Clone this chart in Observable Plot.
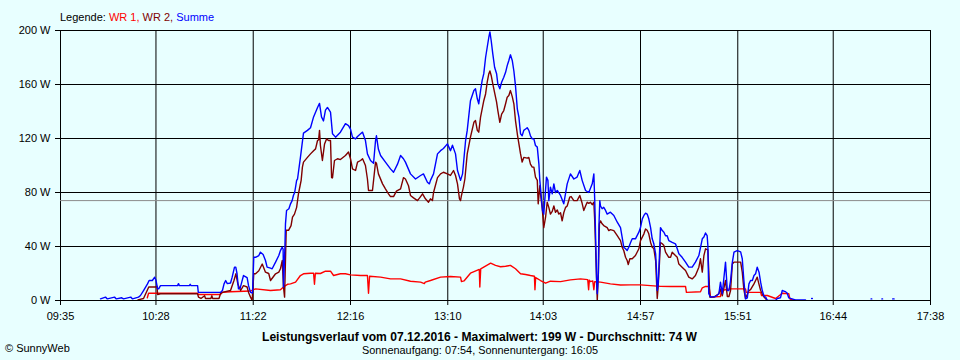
<!DOCTYPE html>
<html><head><meta charset="utf-8">
<script src="https://cdn.jsdelivr.net/npm/d3@7"></script>
<script src="https://cdn.jsdelivr.net/npm/@observablehq/plot@0.6"></script>
<style>
html,body{margin:0;padding:0;background:#E8FFFF;}
#chart svg{display:block;}
</style></head><body><div id="chart"></div>
<script>
// x tick labels (time of day) and y ticks (W)
const tickLabels = ["09:35","10:28","11:22","12:16","13:10","14:03","14:57","15:51","16:44","17:38"];
const yTicks = [0, 40, 80, 120, 160, 200];
const averageW = 74;
const titleText = "Leistungsverlauf vom 07.12.2016 - Maximalwert: 199 W - Durchschnitt: 74 W";
const subtitleText = "Sonnenaufgang: 07:54, Sonnenuntergang: 16:05";
const seriesNames = ["WR 1", "WR 2", "Summe"];
const seriesColors = ["#FF0000", "#800000", "#0000FF"];

// [minutes since midnight, watts]
const wr1 = [[623.2,2],[623.9,5.4],[651.1,5.4],[651.5,4.4],[663.8,4.4],[664.9,6],[669.4,6.5],[680.5,7],[682.1,8],[683.3,8.6],[691.6,7.4],[697.1,8],[698.8,10],[701,12],[702.7,12.3],[705.5,13.6],[708.2,18.5],[709.9,19.8],[713.8,20.2],[715.5,20.2],[716,12],[716.5,20.2],[719.3,20],[722.1,21.7],[724.9,21.7],[726.6,18.5],[730.4,19.8],[733.2,19.8],[736,19],[741.6,18.5],[745.4,18.5],[746,5.4],[746.6,18],[752.7,17.3],[758.2,16],[763.8,16],[769.3,14.3],[774.9,13.6],[777,12.5],[777.5,13.6],[780.4,14.8],[786,17.3],[791.5,17.8],[797.1,17.3],[797.6,14],[799,14.5],[802.6,20.2],[807.5,23],[807.8,10],[808.3,23.5],[813.8,27.7],[816.5,26],[819.3,25],[822.1,25.4],[824.8,26],[827.6,23.5],[830.4,19.8],[833.2,19.3],[835.9,18.5],[838.1,18],[838.4,8],[838.8,17],[841.5,14.8],[844.3,12.8],[847,14.3],[852.6,14],[858.1,15.3],[863.7,16],[867.7,15.5],[868.2,8],[868.6,15],[869.2,14],[870.5,14.5],[871.1,8],[871.6,14],[874.8,13.6],[880.3,12.3],[885.9,11.5],[891.5,11.6],[897,11.6],[902.6,11],[908.1,10.5],[913.7,10.4],[919.2,10.4],[922,10.4],[922.5,6],[930.3,6.5],[931.3,9.4],[933.1,10.4],[935,10.5],[935.9,2.5],[941.4,3],[941.9,7.4],[947,8.6],[955.3,8.6],[955.7,6],[963.7,6],[964.2,3.7],[967.4,3.7],[972,1.5],[975.7,5.4],[979.3,5],[980,1],[983,0]];

const wr2 = [[618,0.5],[621.1,1.5],[623.3,8],[624,10],[627.7,10],[628.6,10.5],[628.9,4.4],[630.5,5],[651.1,5],[651.6,2.5],[653,1.5],[655,3.5],[655.5,1.5],[658.5,1.5],[659,3.5],[659.5,1.5],[663,1.5],[663.8,5],[664.7,6],[669.4,7.4],[671.3,14.8],[672.4,19.8],[673.5,12],[675,7.4],[676.6,11],[678.6,10],[679.4,6],[680.5,2.5],[681.4,0],[682.3,19.8],[683.3,19.8],[685.1,22],[687,27],[688.8,21],[690.6,20],[691.6,14.8],[694.4,19.8],[696.2,21],[697.1,23.5],[698.1,29.6],[698.8,10],[699.4,2.5],[700.3,52],[701.6,52],[703,55.5],[703.8,61.7],[704.9,64],[706.1,69],[707.1,79],[708,85],[708.6,89],[709.3,98.8],[709.9,102.5],[712.1,106],[713.8,108.6],[715.5,111],[716.6,112.3],[717.7,118.5],[718.3,119],[718.8,126],[719.3,114.8],[720.4,103.7],[721.6,116],[722.7,119.7],[723.8,118.5],[724.9,118.5],[725.5,91],[726,90.8],[727.1,103.7],[728.8,105],[730.4,104.4],[733.2,107.4],[734.9,110],[736,105],[737.1,97.5],[738.8,96.3],[739.9,102.5],[741.6,103.7],[742.7,105],[744.3,100],[745.4,90],[746,81.5],[748.2,81.5],[749.9,102.5],[750.4,101.7],[751.5,93.8],[753.8,86.4],[755.4,82.7],[757.1,79],[758.2,77],[759.9,77],[761.5,81],[763.8,82.7],[765.4,91],[766.5,90],[768.2,85],[769.3,77.8],[771,76],[773.2,74],[774.9,77],[776,79],[777.6,75.3],[779.3,72.8],[780.4,75.3],[781.5,74],[782.1,80],[784.3,91],[786,93.8],[787.6,95],[789.8,93.8],[791.5,92.6],[793.2,96.3],[794.3,92.6],[795.4,86.4],[796.5,75.3],[797.1,74],[797.6,77.8],[798.7,84],[799.5,90],[800.8,108.6],[802.6,121],[804.5,132],[805.4,133.3],[806.4,126],[807.2,124.7],[808.2,135.8],[809.1,142],[810,148],[811,153],[811.9,161.7],[812.8,168],[813.4,170],[814.1,166.7],[815,160.5],[816,154],[817.1,147],[817.8,140.7],[818.9,132],[819.9,138],[821.1,140.7],[822.1,145.7],[823,150.6],[823.9,151.8],[824.8,155.5],[825.8,151],[826.7,145.7],[827.6,133.3],[828.6,123.5],[829.5,116],[830.4,108.6],[831.3,102.5],[832.2,106],[834.1,105.5],[835,106],[835.9,101],[836.9,98.8],[837.8,98.8],[838.7,91.4],[839.7,89],[840.2,71.6],[841.1,85],[841.5,79],[842.4,69],[843.3,54],[844.3,61.7],[845.2,72.8],[846.1,69],[847,64],[848,66],[848.9,70],[849.8,65.4],[850.8,67],[851.6,64],[852.6,65],[853.5,59],[854.4,65],[855.4,69],[856.3,70],[857.7,76.5],[858.5,77],[860,74],[861.8,74],[863.3,77.8],[864.6,72],[865.5,66.7],[866.5,70],[867.4,72.8],[868.3,72],[869.2,72.8],[870.2,71],[871.1,72.8],[871.6,59],[872.4,24.7],[873,0],[873.6,20],[874.2,56.8],[874.8,59],[875.7,56.8],[876.6,55.5],[878.5,54],[879.4,51.8],[880.3,52.5],[882.2,51.8],[884.1,48],[885.9,44.4],[886.8,39.5],[887.7,37],[888.7,32],[889.6,29.6],[890.2,26.7],[891.1,30.9],[892.4,30.9],[894.2,33.3],[896.1,38.3],[897,44.4],[898.9,49.4],[899.8,53],[900.7,52],[901.6,49.4],[902.6,43],[903.5,39.5],[904.4,38.5],[905.4,29.6],[906.3,1.5],[906.8,10],[907.4,24.7],[908.1,43],[909.1,42],[910,40.7],[910.9,35.8],[912.7,32],[913.7,32],[914.6,35.8],[916.4,33.3],[917.4,32],[918.3,27],[920.1,24.7],[922,22.2],[923.8,17.3],[925.7,16],[927.5,18.5],[929.4,24.7],[930.3,30.9],[931.3,21],[932.2,33.3],[933.1,38.3],[934.4,37.5],[934.9,22],[935.5,2.5],[937.7,2.5],[940.5,5],[941.4,8.6],[942.4,3.5],[944.2,14.8],[945.2,3],[946.1,3],[947,7.4],[948,27],[948.9,28.4],[952.6,28.4],[953.5,21],[954.4,8],[955.3,1.5],[957.2,7.4],[958.1,8],[960,12.3],[960.9,14.8],[961.8,17.3],[962.8,12],[963.7,7.4],[964.6,5],[965.6,2.5],[967.4,0]];

const summe = [[597.2,1.2],[600,2.5],[601,1.2],[605,2.5],[606,1.2],[609,2],[610,1.2],[614,2.5],[615,1.2],[618.3,2.5],[619.4,3.7],[621.1,7.4],[623.3,12.3],[624.2,14.8],[626,14.8],[627.3,17.3],[628,15],[628.9,8.6],[629.5,8.6],[630.5,11],[640,11],[640.5,12.5],[641,11],[646.5,11],[647,12],[647.5,11],[651.1,11],[651.5,6],[663.8,6],[664.9,7.4],[665.8,12.3],[666.7,14.8],[667.6,12.5],[669.4,13],[670.3,17.3],[671.6,24.7],[672.3,24.7],[673,20],[673.8,8.6],[674.7,9],[675.7,14],[676.6,18.5],[678.6,17],[679.4,11],[680.5,6],[681.6,5.5],[682.3,32],[683.3,32],[685.1,33.3],[686,35.8],[687.5,34],[688.8,29.6],[689.7,24.7],[691.6,24],[692.5,23.5],[694.4,28.4],[696.2,33.3],[697.1,37],[698.1,39.5],[698.6,38],[698.8,10],[699.6,40],[699.9,56.8],[700.5,66.7],[701.8,68],[702.7,71.6],[703.6,74],[704.3,77.8],[705,80],[705.5,84],[706.1,89],[706.6,90],[708.2,106],[709.9,124],[712.1,126],[713.8,128],[715.5,136],[717.7,143],[718.8,146],[719.9,136],[721,133],[722.1,141],[723.2,143],[724.9,139.5],[726,123.5],[727.7,121],[730.4,124.7],[733.2,131],[734.9,129.6],[736,127],[737.1,121],[738.8,119.7],[739.9,121.5],[741.6,123.5],[742.7,124.7],[744.3,118.5],[745.4,108.6],[747.1,103.7],[748.8,101.7],[749.9,118.5],[750.4,122],[751.5,112],[752.7,107.4],[755.4,102.5],[758.2,97.5],[759.9,95],[762.1,101],[763.8,107.4],[765.4,105],[766.5,102.5],[769.3,93.8],[772.1,90],[774.9,92.6],[776.5,93.8],[778.7,87.6],[779.8,86.4],[780.4,89],[782.1,93.8],[784.3,108.6],[786,111],[787.6,112.6],[789.8,116],[791.5,111],[792.6,115],[794.3,108.6],[795.4,96.3],[797.1,89],[798.2,93.8],[799.9,118.5],[800.8,126],[802.6,148],[804.5,155.5],[805.4,156.8],[806.4,149.4],[807.2,145.7],[808.2,155.5],[809.1,163],[810,168],[811,180],[811.9,187.6],[812.8,195],[813.4,199],[814.1,192.6],[815,182.7],[816,172.8],[817.1,168],[817.8,160.5],[818.9,156.8],[819.9,161.7],[821.1,165.4],[822.1,169],[823,174],[823.9,177.8],[824.8,182],[825.8,177.8],[826.7,170],[827.6,159],[828.6,142],[829.5,135.8],[830.4,123.5],[831.3,122],[832.2,126],[833.2,127],[834.1,128],[835,126],[835.9,122],[836.9,119.7],[837.8,119.7],[838.7,114.8],[839.7,113.6],[840.6,101],[841.1,89],[842.1,74],[842.6,66.7],[843.3,64],[844.8,91.4],[845.6,89],[846.1,74],[847,84],[848,79],[848.9,86.4],[849.8,80],[850.8,81.5],[852.6,77.8],[854.4,71.6],[856.3,86.4],[858.1,93.8],[860,90],[861.8,91.4],[863.3,96.3],[864.6,89],[866.5,81.5],[868.3,80],[870.2,86.4],[871.1,93.8],[871.6,74],[872.4,29.6],[872.6,17],[873,5],[873.6,20],[873.9,54],[874.4,74],[874.8,70],[875.7,68],[876.6,69],[877.6,66.7],[878.5,64],[880.3,65.4],[882.2,63],[884.1,58],[885.9,54],[886.8,47],[887.7,39.5],[888.7,38.3],[889.6,37],[890.5,39.5],[891.5,43],[892.4,45.7],[894.2,45.7],[896.1,50.6],[897,54],[898,60.5],[898.9,63],[899.8,64.7],[900.7,64],[901.6,60.5],[902.6,54],[903.5,45.7],[904.4,42],[905.4,34.6],[905.9,22],[906.3,7.4],[906.8,12],[907.4,29.6],[908.1,54],[909.1,51.8],[910,50.6],[910.9,48],[911.8,48],[912.7,44.4],[914.6,43],[916.4,42],[917.4,38.3],[918.3,34.6],[920.1,32],[922,28.4],[923.8,24.7],[925.7,24.7],[927.5,28.4],[929.4,33.3],[931.3,45.7],[932.2,47],[933.1,50],[934,48],[934.4,40.7],[934.9,5],[935.9,2.5],[938.7,3],[940.5,5],[941.4,13.6],[942.4,5],[944.2,28.4],[945.2,7.4],[946.1,7.4],[947,14.8],[948,28.4],[948.9,35.8],[950.7,37],[952.6,36],[953.5,30.9],[954.4,14.8],[955.3,1.2],[956.3,2],[957.2,12.3],[958.1,14.8],[959.1,14.8],[960,18.5],[960.9,19.8],[961.8,24.7],[962.8,21],[963.7,13.6],[964.6,7.4],[965.6,3],[966.5,2.5],[967.4,0],[972,0],[972.9,1.5],[974.7,2],[975.7,7.4],[976.6,7],[977.5,6.5],[978.4,5.5],[979.3,2],[983,0.5],[988.6,0.5],[988.7,NaN],[992,1.5],[992.4,1.5],[992.5,NaN],[1025,1.2],[1025.4,1.2],[1025.5,NaN],[1031,1.2],[1031.4,1.2],[1031.5,NaN],[1037,1.2],[1037.8,1.2]];

const toMin = s => { const [h, m] = s.split(":").map(Number); return h * 60 + m; };
const tickMinutes = tickLabels.map(toMin);
const labelOf = new Map(tickMinutes.map((m, i) => [m, tickLabels[i]]));
const FONT = "'Liberation Sans', Arial, sans-serif";

const lineOpts = (color) => ({x: d => d[0], y: d => d[1], stroke: color, strokeWidth: 1.4, clip: true});

const chart = Plot.plot({
  width: 960, height: 360,
  marginLeft: 60, marginRight: 30, marginTop: 30, marginBottom: 60,
  style: {background: "#E8FFFF", fontFamily: FONT, fontSize: "11px", color: "black"},
  x: {type: "linear", domain: [tickMinutes[0], tickMinutes[tickMinutes.length - 1]]},
  y: {domain: [0, 200]},
  marks: [
    Plot.gridX(tickMinutes, {stroke: "black", strokeOpacity: 1, strokeWidth: 1}),
    Plot.gridY(yTicks, {stroke: "black", strokeOpacity: 1, strokeWidth: 1}),
    Plot.axisX(tickMinutes, {tickSize: 5, tickPadding: 7, tickFormat: d => labelOf.get(d), label: null, stroke: "black", fontSize: 11}),
    Plot.axisY(yTicks, {tickSize: 5, tickPadding: 5, tickFormat: d => d + " W", label: null, stroke: "black", fontSize: 11}),
    Plot.ruleY([averageW], {stroke: "#8C8C8C", strokeWidth: 1}),
    Plot.line(wr1, lineOpts(seriesColors[0])),
    Plot.line(wr2, lineOpts(seriesColors[1])),
    Plot.line(summe, lineOpts(seriesColors[2]))
  ]
});
document.getElementById("chart").appendChild(chart);

const svg = d3.select(chart);
const addText = (x, y, size) => svg.append("text").attr("x", x).attr("y", y)
  .attr("text-anchor", "start").attr("font-family", FONT).attr("font-size", size).attr("fill", "black");
// legend
const leg = addText(60, 21, 11);
leg.append("tspan").text("Legende: ");
seriesNames.forEach((n, i) => {
  leg.append("tspan").attr("fill", seriesColors[i]).text(n);
  if (i < seriesNames.length - 1) leg.append("tspan").attr("fill", seriesColors[i]).text(", ");
});
// title, subtitle, copyright
addText(262, 341, 12).attr("font-weight", "bold")
  .attr("textLength", 435).attr("lengthAdjust", "spacingAndGlyphs").text(titleText);
addText(362, 354, 11)
  .attr("textLength", 236).attr("lengthAdjust", "spacingAndGlyphs").text(subtitleText);
addText(5, 352, 11).text("\u00A9 SunnyWeb");
</script>
</body></html>
